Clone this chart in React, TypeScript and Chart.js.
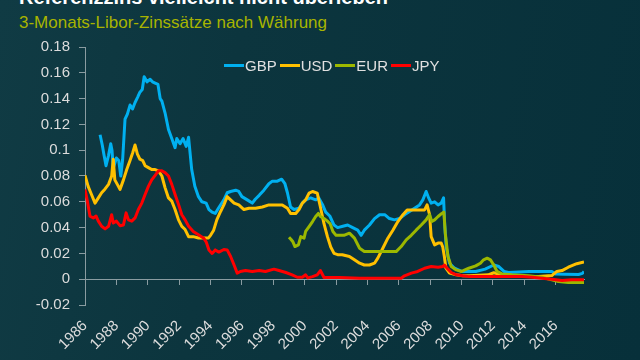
import React, { useEffect, useRef } from "react";
import { Chart, registerables } from "chart.js";

Chart.register(...registerables);

const TITLE = "Referenzzins vielleicht nicht überleben";
const SUBTITLE = "3-Monats-Libor-Zinssätze nach Währung";
const SERIES_NAMES = ["GBP", "USD", "EUR", "JPY"];
const SERIES_COLORS = ["#00b0f0", "#ffc000", "#9cb800", "#ff0000"];
const TICK_YEARS = [1986, 1988, 1990, 1992, 1994, 1996, 1998, 2000, 2002, 2004, 2006, 2008, 2010, 2012, 2014, 2016];
const Y_TICKS = [-0.02, 0, 0.02, 0.04, 0.06, 0.08, 0.1, 0.12, 0.14, 0.16, 0.18];
const X_MIN = 1986;
const X_MAX = 2017.8;

const gbpYears = [1986.96, 1987.1, 1987.2, 1987.34, 1987.5, 1987.64, 1987.72, 1987.8, 1988.0, 1988.15, 1988.28, 1988.4, 1988.55, 1988.7, 1988.87, 1989.03, 1989.19, 1989.35, 1989.5, 1989.65, 1989.77, 1989.95, 1990.15, 1990.3, 1990.47, 1990.65, 1990.79, 1990.9, 1991.1, 1991.32, 1991.53, 1991.74, 1991.85, 1992.06, 1992.25, 1992.45, 1992.6, 1992.8, 1993.0, 1993.23, 1993.45, 1993.72, 1993.9, 1994.1, 1994.3, 1994.5, 1994.85, 1995.06, 1995.28, 1995.6, 1995.8, 1996.0, 1996.34, 1996.66, 1996.85, 1997.1, 1997.4, 1997.72, 1997.94, 1998.26, 1998.53, 1998.74, 1998.9, 1999.1, 1999.32, 1999.64, 1999.85, 2000.06, 2000.38, 2000.7, 2000.9, 2001.13, 2001.34, 2001.6, 2001.87, 2002.1, 2002.43, 2002.74, 2003.06, 2003.38, 2003.6, 2003.8, 2004.13, 2004.45, 2004.77, 2005.1, 2005.4, 2005.72, 2006.04, 2006.36, 2006.68, 2007.0, 2007.32, 2007.53, 2007.74, 2007.9, 2008.06, 2008.28, 2008.5, 2008.7, 2008.85, 2008.92, 2009.02, 2009.23, 2009.55, 2010.0, 2010.9, 2011.5, 2012.05, 2012.37, 2012.7, 2013.0, 2014.3, 2015.75, 2016.0, 2016.6, 2017.45, 2017.7, 2017.8];
const gbpRates = [0.112, 0.104, 0.097, 0.088, 0.096, 0.105, 0.1, 0.086, 0.094, 0.092, 0.08, 0.093, 0.124, 0.128, 0.135, 0.132, 0.137, 0.141, 0.145, 0.147, 0.157, 0.153, 0.155, 0.153, 0.152, 0.151, 0.14, 0.138, 0.129, 0.116, 0.109, 0.102, 0.109, 0.105, 0.109, 0.103, 0.11, 0.085, 0.072, 0.064, 0.06, 0.059, 0.054, 0.052, 0.051, 0.055, 0.0615, 0.067, 0.068, 0.069, 0.068, 0.064, 0.0615, 0.059, 0.062, 0.065, 0.069, 0.074, 0.076, 0.076, 0.0775, 0.074, 0.067, 0.056, 0.054, 0.055, 0.059, 0.0615, 0.063, 0.0615, 0.063, 0.058, 0.052, 0.049, 0.042, 0.04, 0.041, 0.042, 0.04, 0.038, 0.034, 0.038, 0.042, 0.047, 0.05, 0.05, 0.047, 0.046, 0.047, 0.05, 0.0525, 0.055, 0.0576, 0.0615, 0.068, 0.063, 0.059, 0.06, 0.0576, 0.059, 0.063, 0.043, 0.025, 0.0124, 0.0085, 0.006, 0.006, 0.0078, 0.011, 0.0098, 0.006, 0.0052, 0.006, 0.006, 0.004, 0.0039, 0.0036, 0.0045, 0.006];

const usdYears = [1986.0, 1986.2, 1986.4, 1986.64, 1986.85, 1987.06, 1987.28, 1987.5, 1987.7, 1987.8, 1987.9, 1988.06, 1988.23, 1988.45, 1988.66, 1988.87, 1989.04, 1989.19, 1989.34, 1989.5, 1989.68, 1989.83, 1990.04, 1990.25, 1990.47, 1990.68, 1990.9, 1991.1, 1991.32, 1991.53, 1991.74, 1991.96, 1992.17, 1992.38, 1992.6, 1992.9, 1993.23, 1993.55, 1993.87, 1994.0, 1994.2, 1994.4, 1994.64, 1994.85, 1995.06, 1995.28, 1995.5, 1995.8, 1996.13, 1996.45, 1996.87, 1997.3, 1997.72, 1998.15, 1998.57, 1998.9, 1999.1, 1999.43, 1999.64, 1999.85, 2000.06, 2000.28, 2000.5, 2000.8, 2001.0, 2001.23, 2001.45, 2001.66, 2001.87, 2002.1, 2002.4, 2002.85, 2003.17, 2003.5, 2003.8, 2004.13, 2004.45, 2004.66, 2004.98, 2005.3, 2005.62, 2005.94, 2006.26, 2006.53, 2006.9, 2007.32, 2007.64, 2007.8, 2007.96, 2008.06, 2008.28, 2008.5, 2008.7, 2008.8, 2008.9, 2009.0, 2009.23, 2009.66, 2010.08, 2010.5, 2011.7, 2012.05, 2012.37, 2012.8, 2013.85, 2014.9, 2015.75, 2016.07, 2016.4, 2016.8, 2017.34, 2017.8];
const usdRates = [0.0805, 0.072, 0.066, 0.059, 0.063, 0.067, 0.07, 0.0735, 0.08, 0.093, 0.077, 0.0735, 0.0696, 0.077, 0.085, 0.092, 0.098, 0.104, 0.097, 0.093, 0.092, 0.088, 0.0865, 0.085, 0.085, 0.084, 0.08, 0.071, 0.063, 0.0605, 0.054, 0.046, 0.041, 0.0385, 0.033, 0.033, 0.032, 0.032, 0.032, 0.034, 0.038, 0.046, 0.0525, 0.0576, 0.064, 0.0615, 0.059, 0.0576, 0.054, 0.055, 0.055, 0.056, 0.0576, 0.0576, 0.0576, 0.055, 0.051, 0.051, 0.054, 0.059, 0.0615, 0.0667, 0.068, 0.0667, 0.056, 0.043, 0.033, 0.025, 0.02, 0.019, 0.019, 0.0176, 0.015, 0.0124, 0.011, 0.011, 0.0124, 0.0163, 0.024, 0.0318, 0.038, 0.0447, 0.05, 0.0537, 0.0537, 0.0537, 0.0537, 0.0576, 0.05, 0.033, 0.0266, 0.028, 0.028, 0.025, 0.0176, 0.0085, 0.0047, 0.0034, 0.0026, 0.0026, 0.0034, 0.005, 0.004, 0.0026, 0.002, 0.002, 0.0028, 0.006, 0.0067, 0.0093, 0.012, 0.0134];

const eurYears = [1999.0, 1999.12, 1999.25, 1999.38, 1999.6, 1999.75, 1999.96, 2000.06, 2000.28, 2000.5, 2000.7, 2000.87, 2001.0, 2001.23, 2001.45, 2001.62, 2001.8, 2002.0, 2002.2, 2002.5, 2002.85, 2003.17, 2003.5, 2003.8, 2004.34, 2004.87, 2005.4, 2005.83, 2006.15, 2006.47, 2006.79, 2007.1, 2007.43, 2007.74, 2007.96, 2008.1, 2008.28, 2008.5, 2008.74, 2008.87, 2008.96, 2009.13, 2009.34, 2009.66, 2010.0, 2010.46, 2010.9, 2011.2, 2011.4, 2011.63, 2011.84, 2012.05, 2012.26, 2012.58, 2013.2, 2014.27, 2015.1, 2015.75, 2016.17, 2016.8, 2017.8];
const eurRates = [0.0326, 0.031, 0.029, 0.0253, 0.0266, 0.033, 0.0318, 0.037, 0.0408, 0.0447, 0.0486, 0.051, 0.0486, 0.047, 0.045, 0.043, 0.037, 0.034, 0.034, 0.034, 0.0357, 0.0318, 0.024, 0.0214, 0.0214, 0.0214, 0.0214, 0.0214, 0.0253, 0.0305, 0.034, 0.038, 0.042, 0.046, 0.05, 0.0447, 0.046, 0.0486, 0.051, 0.052, 0.0357, 0.0176, 0.0098, 0.0072, 0.006, 0.0085, 0.0103, 0.0124, 0.015, 0.0163, 0.015, 0.011, 0.006, 0.0041, 0.0034, 0.0026, 0.0015, -0.0005, -0.0018, -0.0026, -0.0026];

const jpyYears = [1986.0, 1986.15, 1986.32, 1986.53, 1986.7, 1986.85, 1987.06, 1987.28, 1987.5, 1987.7, 1987.8, 1988.0, 1988.23, 1988.45, 1988.62, 1988.77, 1988.98, 1989.19, 1989.4, 1989.62, 1989.83, 1990.04, 1990.25, 1990.47, 1990.68, 1990.9, 1991.1, 1991.32, 1991.53, 1991.74, 1991.96, 1992.17, 1992.38, 1992.6, 1992.9, 1993.23, 1993.55, 1993.72, 1993.9, 1994.1, 1994.3, 1994.53, 1994.85, 1995.06, 1995.28, 1995.5, 1995.7, 1995.9, 1996.23, 1996.66, 1997.1, 1997.5, 1998.04, 1998.36, 1998.8, 1999.2, 1999.53, 1999.85, 2000.06, 2000.2, 2000.5, 2000.8, 2001.0, 2001.23, 2001.77, 2002.2, 2003.5, 2005.0, 2006.15, 2006.36, 2006.8, 2007.2, 2007.64, 2008.06, 2008.5, 2008.8, 2008.9, 2009.13, 2009.34, 2009.66, 2010.08, 2010.5, 2011.7, 2013.85, 2014.5, 2015.1, 2015.75, 2016.4, 2017.0, 2017.8];
const jpyRates = [0.0696, 0.0605, 0.0488, 0.0475, 0.049, 0.045, 0.041, 0.039, 0.041, 0.05, 0.0436, 0.045, 0.0415, 0.042, 0.0514, 0.046, 0.045, 0.0475, 0.054, 0.059, 0.0657, 0.072, 0.077, 0.0805, 0.084, 0.084, 0.0826, 0.08, 0.0735, 0.0657, 0.058, 0.05, 0.046, 0.041, 0.037, 0.0345, 0.032, 0.029, 0.0227, 0.02, 0.0227, 0.021, 0.023, 0.0227, 0.0176, 0.011, 0.0047, 0.006, 0.0067, 0.006, 0.0067, 0.006, 0.0078, 0.0067, 0.0052, 0.0034, 0.0015, 0.0015, 0.0034, 0.001, 0.002, 0.0034, 0.0067, 0.0013, 0.0013, 0.0013, 0.0008, 0.0008, 0.0008, 0.0026, 0.0047, 0.006, 0.0085, 0.0098, 0.0093, 0.0098, 0.011, 0.0078, 0.0052, 0.0034, 0.0026, 0.002, 0.002, 0.002, 0.0015, 0.0008, 0.0, -0.001, -0.0005, -0.0005];

const SERIES_YEARS = [gbpYears, usdYears, eurYears, jpyYears];
const SERIES_RATES = [gbpRates, usdRates, eurRates, jpyRates];

const FONT_FAMILY = "'Liberation Sans', Arial, Helvetica, sans-serif";

export default function App() {
  const ref = useRef<HTMLCanvasElement>(null);

  useEffect(() => {
    const canvas = ref.current;
    if (!canvas) return;
    const axisColor = "#8a9ca1";
    const tickColor = "#dcdcdc";
    const setYears = (s: any) => {
      s.ticks = TICK_YEARS.map((v) => ({ value: v }));
    };
    const datasets = SERIES_NAMES.map((name, i) => ({
      label: name,
      data: SERIES_YEARS[i].map((x, j) => ({ x, y: SERIES_RATES[i][j] })),
      borderColor: SERIES_COLORS[i],
      backgroundColor: SERIES_COLORS[i],
      borderWidth: 3,
      pointRadius: 0,
      tension: 0,
      borderJoinStyle: "round" as const,
      order: SERIES_NAMES.length - i,
    }));
    const chart = new Chart(canvas, {
      type: "line",
      data: { datasets },
      options: {
        responsive: false,
        animation: false,
        layout: { padding: { left: 0, right: 56, top: 47, bottom: 0 } },
        plugins: { legend: { display: false }, tooltip: { enabled: false } },
        scales: {
          x: {
            type: "linear",
            position: { y: 0 } as any,
            min: X_MIN,
            max: X_MAX,
            afterBuildTicks: setYears,
            ticks: { display: false },
            grid: { drawOnChartArea: false, drawTicks: true, tickLength: 5, color: axisColor, lineWidth: 1 },
            border: { display: true, color: axisColor, width: 1 },
          },
          x2: {
            type: "linear",
            position: "bottom",
            min: X_MIN,
            max: X_MAX,
            afterBuildTicks: setYears,
            afterFit: (s: any) => {
              s.height = 55;
            },
            ticks: {
              autoSkip: false,
              maxRotation: 45,
              minRotation: 45,
              padding: 12,
              color: tickColor,
              font: { family: FONT_FAMILY, size: 15 },
              callback: (v: any) => String(v),
            },
            grid: { display: false, drawTicks: false },
            border: { display: false },
          },
          y: {
            type: "linear",
            position: "left",
            min: -0.02,
            max: 0.18,
            afterBuildTicks: (s: any) => {
              s.ticks = Y_TICKS.map((v) => ({ value: v }));
            },
            afterFit: (s: any) => {
              s.width = 85;
            },
            ticks: {
              padding: 9,
              color: tickColor,
              font: { family: FONT_FAMILY, size: 15 },
              callback: (v: any) => String(Number(Number(v).toFixed(2))),
            },
            grid: { drawOnChartArea: false, drawTicks: true, tickLength: 6, color: axisColor, lineWidth: 1 },
            border: { display: true, color: axisColor, width: 1 },
          },
        },
      },
    } as any);
    return () => chart.destroy();
  }, []);

  return (
    <div
      style={{
        position: "fixed",
        left: 0,
        top: 0,
        width: 640,
        height: 360,
        overflow: "hidden",
        background: "linear-gradient(100deg, #103b44 0%, #0c353e 35%, #07303a 100%)",
        fontFamily: FONT_FAMILY,
      }}
    >
      <div
        style={{
          position: "absolute",
          left: 19,
          top: -13,
          fontSize: 20,
          lineHeight: "20px",
          fontWeight: "bold",
          color: "#ffffff",
          whiteSpace: "nowrap",
        }}
      >
        {TITLE}
      </div>
      <div
        style={{
          position: "absolute",
          left: 19,
          top: 14,
          fontSize: 17,
          lineHeight: "17px",
          color: "#a8b400",
          whiteSpace: "nowrap",
        }}
      >
        {SUBTITLE}
      </div>
      <canvas ref={ref} width={640} height={360} style={{ position: "absolute", left: 0, top: 0 }} />
      <div
        style={{
          position: "absolute",
          left: 224,
          top: 58,
          display: "flex",
          alignItems: "center",
          gap: 3,
          fontSize: 15,
          lineHeight: "15px",
          color: "#e0e0e0",
          whiteSpace: "nowrap",
        }}
      >
        {SERIES_NAMES.map((name, i) => (
          <div key={name} style={{ display: "flex", alignItems: "center" }}>
            <span style={{ display: "inline-block", width: 20, height: 3, background: SERIES_COLORS[i], marginRight: 1 }} />
            <span>{name}</span>
          </div>
        ))}
      </div>
    </div>
  );
}
